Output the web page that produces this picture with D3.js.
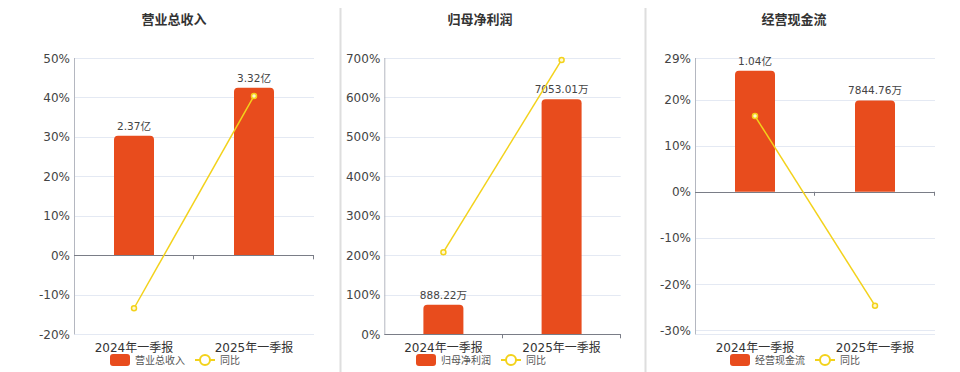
<!DOCTYPE html>
<html lang="zh">
<head>
<meta charset="UTF-8">
<title>业绩概览</title>
<script src="https://d3js.org/d3.v7.min.js"></script>
<style>
    body { margin: 0; background: #fff; }
    svg { display: block; font-family: "DejaVu Sans", "Noto Sans CJK SC", sans-serif; }
    .title { font-size: 13px; font-weight: bold; fill: #333; }
    .tick-label { font-size: 12px; fill: #444; }
    .cat-label { font-size: 12px; fill: #333; }
    .val-label { font-size: 10.5px; fill: #444; }
    .legend-text { font-size: 10px; fill: #555; }
</style>
</head>
<body>
<svg id="chart" width="960" height="372"></svg>
<script>
// categories shared by all three panels
const categories = ["2024年一季报", "2025年一季报"];
const titles = ["营业总收入", "归母净利润", "经营现金流"];
const yoyName = "同比";

// bar values in 万元, shown labels, and yoy %
const revenueValues = [23700, 33200];
const revenueLabels = ["2.37亿", "3.32亿"];
const revenueYoy = [-13.4, 40.4];
const revenueTicks = [-20, -10, 0, 10, 20, 30, 40, 50];

const profitValues = [888.22, 7053.01];
const profitLabels = ["888.22万", "7053.01万"];
const profitYoy = [208, 695];
const profitTicks = [0, 100, 200, 300, 400, 500, 600, 700];

const cashValues = [10400, 7844.76];
const cashLabels = ["1.04亿", "7844.76万"];
const cashYoy = [16.4, -24.7];
const cashTicks = [-30, -20, -10, 0, 10, 20, 29];

const barColor = "#e84c1d";
const lineColor = "#f3d21b";
const gridTop = 58, gridBottom = 334.3;

let svg = d3.select("#chart");

// separators between panels
[340.5, 645.5].forEach(function (x) {
    svg.append("line")
        .attr("x1", x).attr("x2", x)
        .attr("y1", 8).attr("y2", 372)
        .attr("stroke", "#dedede").attr("stroke-width", 2);
});

let panels = [
    {title: titles[0], values: revenueValues, labels: revenueLabels, yoy: revenueYoy, ticks: revenueTicks,
     left: 74, right: 314, center: 174, pctDomain: [-20, 50], barHead: 1.178},
    {title: titles[1], values: profitValues, labels: profitLabels, yoy: profitYoy, ticks: profitTicks,
     left: 384.3, right: 620.7, center: 480, pctDomain: [0, 700], barHead: 1.176},
    {title: titles[2], values: cashValues, labels: cashLabels, yoy: cashYoy, ticks: cashTicks,
     left: 695, right: 935, center: 794, pctDomain: [-30.9, 29], barHead: 1.105}
];

panels.forEach(drawPanel);

function drawPanel(p) {
    let g = svg.append("g");

    let x = d3.scaleBand().domain(categories).range([p.left, p.right]);
    let y = d3.scaleLinear().domain(p.pctDomain).range([gridBottom, gridTop]);
    let y0 = y(0);
    // hidden bar axis: zero aligned with 0%
    let barMax = d3.max(p.values) * p.barHead;
    let yb = d3.scaleLinear().domain([0, barMax]).range([y0, gridTop]);

    // title
    g.append("text").attr("class", "title")
        .attr("x", p.center).attr("y", 24)
        .attr("text-anchor", "middle").text(p.title);

    // grid lines
    let gridVals = p.ticks.slice();
    if (p.pctDomain[0] < p.ticks[0]) gridVals.push(p.pctDomain[0]);
    g.selectAll(".grid").data(gridVals).enter().append("line")
        .attr("x1", p.left).attr("x2", p.right)
        .attr("y1", d => Math.round(y(d)) + 0.5).attr("y2", d => Math.round(y(d)) + 0.5)
        .attr("stroke", "#e4e9f3").attr("stroke-width", 1);

    // y tick labels
    g.selectAll(".tick-label").data(p.ticks).enter().append("text")
        .attr("class", "tick-label")
        .attr("x", p.left - 4).attr("y", d => y(d) + 4.5)
        .attr("text-anchor", "end")
        .text(d => d + "%");

    // left axis line
    g.append("line")
        .attr("x1", p.left + 0.5).attr("x2", p.left + 0.5)
        .attr("y1", gridTop).attr("y2", gridBottom)
        .attr("stroke", "#b4b7c0");

    // bars with rounded top corners
    let bw = 40, r = 4;
    g.selectAll(".bar").data(p.values).enter().append("path")
        .attr("fill", barColor)
        .attr("d", function (d, i) {
            let cx = x(categories[i]) + x.bandwidth() / 2;
            let x0 = cx - bw / 2, x1 = cx + bw / 2;
            let top = yb(d);
            return "M" + x0 + "," + y0 + "V" + (top + r) +
                "Q" + x0 + "," + top + " " + (x0 + r) + "," + top +
                "H" + (x1 - r) + "Q" + x1 + "," + top + " " + x1 + "," + (top + r) +
                "V" + y0 + "Z";
        });

    // value labels
    g.selectAll(".val-label").data(p.values).enter().append("text")
        .attr("class", "val-label")
        .attr("x", (d, i) => x(categories[i]) + x.bandwidth() / 2)
        .attr("y", d => yb(d) - 6)
        .attr("text-anchor", "middle")
        .text((d, i) => p.labels[i]);

    // zero axis line with ticks
    g.append("line")
        .attr("x1", p.left).attr("x2", p.right)
        .attr("y1", Math.round(y0) + 0.5).attr("y2", Math.round(y0) + 0.5)
        .attr("stroke", "#7a7d87");
    [categories[1], null].forEach(function (c) {
        let tx = c ? x(c) : p.right;
        g.append("line")
            .attr("x1", Math.round(tx) - 0.5).attr("x2", Math.round(tx) - 0.5)
            .attr("y1", y0).attr("y2", y0 + 4)
            .attr("stroke", "#7a7d87");
    });

    // category labels
    g.selectAll(".cat-label").data(categories).enter().append("text")
        .attr("class", "cat-label")
        .attr("x", d => x(d) + x.bandwidth() / 2)
        .attr("y", 352)
        .attr("text-anchor", "middle")
        .text(d => d);

    // yoy line
    let line = d3.line()
        .x((d, i) => x(categories[i]) + x.bandwidth() / 2)
        .y(d => y(d));
    g.append("path").datum(p.yoy)
        .attr("d", line)
        .attr("fill", "none").attr("stroke", lineColor).attr("stroke-width", 1.5);
    g.selectAll(".pt").data(p.yoy).enter().append("circle")
        .attr("cx", (d, i) => x(categories[i]) + x.bandwidth() / 2)
        .attr("cy", d => y(d))
        .attr("r", 2.5)
        .attr("fill", "#fff8d0").attr("stroke", lineColor).attr("stroke-width", 1.5);

    // legend
    let lg = g.append("g");
    let lx = p.center - 64, ly = 360;
    lg.append("rect").attr("x", lx).attr("y", ly - 6).attr("width", 20).attr("height", 12)
        .attr("rx", 3).attr("fill", barColor);
    let t1 = lg.append("text").attr("class", "legend-text")
        .attr("x", lx + 25).attr("y", ly + 4).text(p.title);
    let w1 = t1.node().getComputedTextLength();
    let sx = lx + 25 + w1 + 10;
    lg.append("line").attr("x1", sx).attr("x2", sx + 20).attr("y1", ly).attr("y2", ly)
        .attr("stroke", lineColor).attr("stroke-width", 2);
    lg.append("circle").attr("cx", sx + 10).attr("cy", ly).attr("r", 5)
        .attr("fill", "#fff").attr("stroke", lineColor).attr("stroke-width", 2);
    lg.append("text").attr("class", "legend-text")
        .attr("x", sx + 25).attr("y", ly + 4).text(yoyName);
}
</script>
</body>
</html>
